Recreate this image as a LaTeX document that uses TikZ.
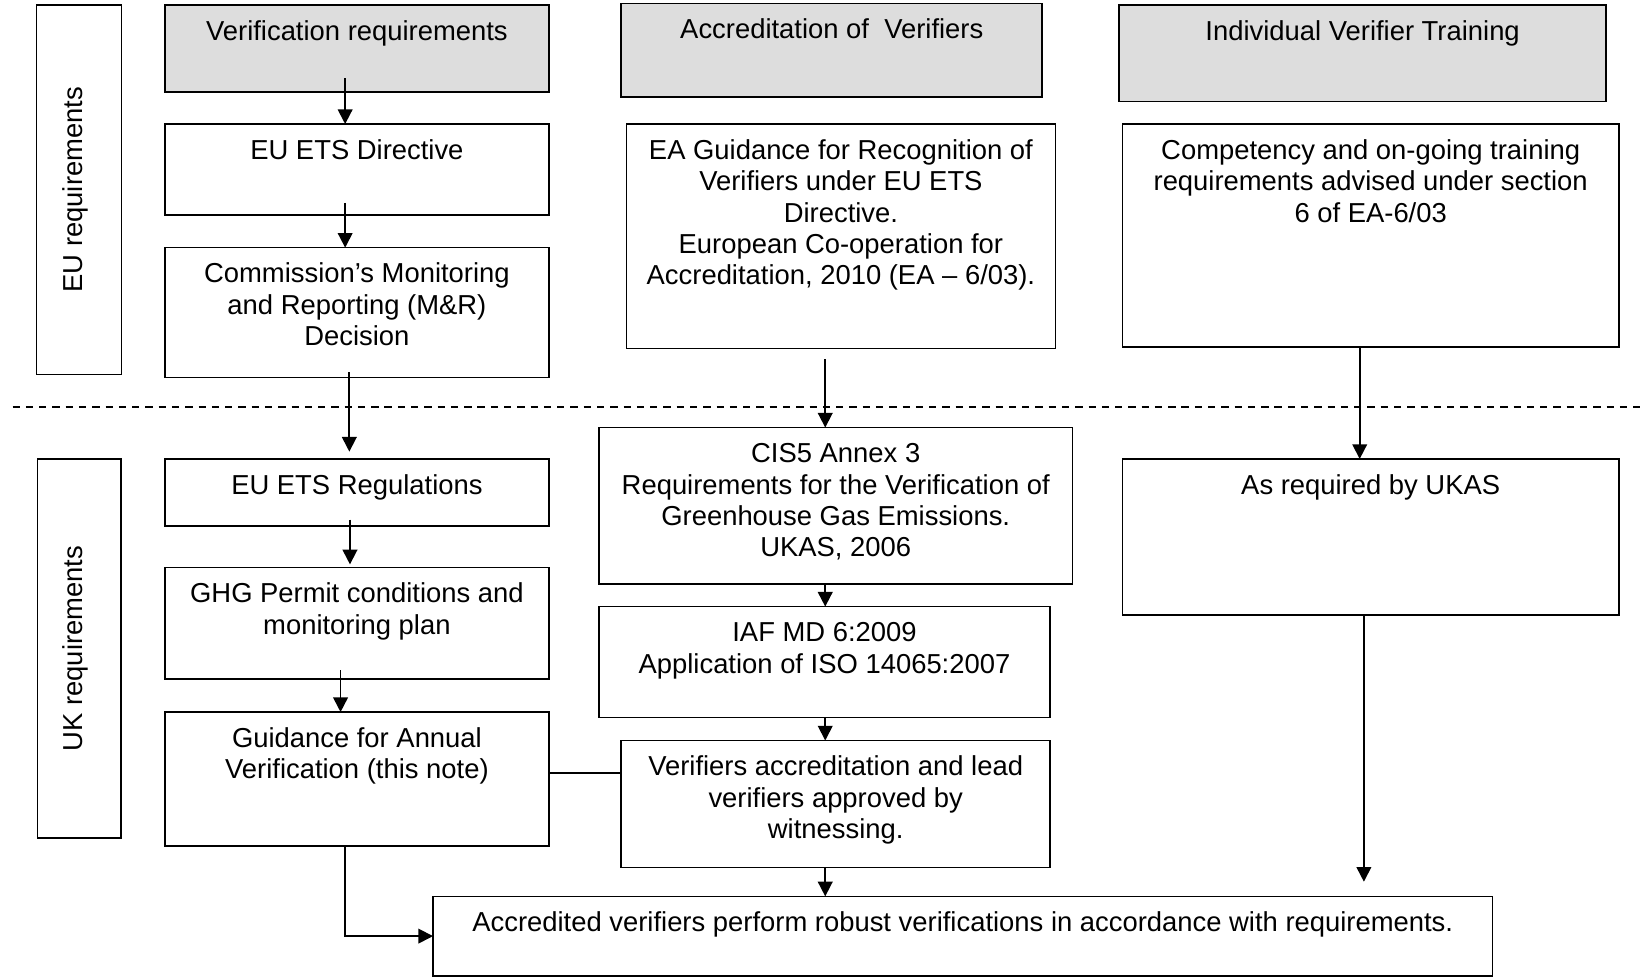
\documentclass[tikz,border=0pt]{standalone}
\usepackage{fontspec}
\setmainfont{Liberation Sans}
\usetikzlibrary{arrows.meta,calc}
\definecolor{hdrgrey}{RGB}{221,221,221}
\newcommand{\fls}{\rule{0pt}{21pt}}
% name, left, top, right, bottom, style, text
\newcommand{\putbox}[7]{%
  \node[#6, minimum width={#4pt-#2pt}, minimum height={#5pt-#3pt}] (#1) at ({(#2+#4)/2},{(#3+#5)/2}) {};
  \node[txt] (#1-t) at ([yshift=-12.5pt]#1.north) {\fls #7};}
\tikzset{
  plainbox/.style={draw, line width=1.5pt, inner sep=0pt, outer sep=0pt, rectangle},
  greybox/.style={plainbox, fill=hdrgrey},
  txt/.style={anchor=north, inner sep=0pt, align=center, font=\fontsize{26.2}{30}\selectfont},
  sidetxt/.style={rotate=90, anchor=base, inner sep=0pt, font=\fontsize{26.2}{30}\selectfont},
  arr/.style={line width=1.7pt, -{Triangle[length=14pt,width=14pt]}},
  plainline/.style={line width=1.6pt},
  dashline/.style={line width=1.6pt, dash pattern=on 7pt off 5.7pt}
}
\begin{document}
\begin{tikzpicture}[x=1pt,y=-1pt]
\useasboundingbox (0,0) rectangle (1568,934);
% side boxes
\node[plainbox, minimum width=81pt, minimum height=353.2pt] (eu) at (75.5,181.4) {};
\node[sidetxt] (eu-t) at (79,181.4) {EU requirements};
\node[plainbox, minimum width=79.5pt, minimum height=362.5pt] (uk) at (75.75,620) {};
\node[sidetxt] (uk-t) at (79,620) {UK requirements};
% header boxes
\putbox{vr}{157.5}{4.8}{525}{87.7}{greybox}{Verification requirements}
\putbox{av}{594}{3.2}{996.5}{93}{greybox}{Accreditation of~ Verifiers}
\putbox{ivt}{1070}{4.8}{1535.6}{97.2}{greybox}{Individual Verifier Training}
% EU column boxes
\putbox{dir}{157.5}{118.6}{525}{205.6}{plainbox}{EU ETS Directive}
\putbox{com}{157.5}{236.8}{525}{361}{plainbox}{Commission’s Monitoring\\and Reporting (M\&R)\\Decision}
\putbox{eag}{599}{118.6}{1009}{333}{plainbox}{EA Guidance for Recognition of\\Verifiers under EU ETS\\Directive.\\European Co-operation for\\Accreditation, 2010 (EA – 6/03).}
\putbox{cmp}{1073}{118.6}{1548}{332}{plainbox}{Competency and on-going training\\requirements advised under section\\6 of EA-6/03}
% UK boxes
\putbox{reg}{157.5}{438.8}{525}{502.8}{plainbox}{EU ETS Regulations}
\putbox{ghg}{157.5}{542.6}{525}{649}{plainbox}{GHG Permit conditions and\\monitoring plan}
\putbox{gav}{157.5}{680.8}{525}{808.6}{plainbox}{Guidance for Annual\\Verification (this note)}
\putbox{cis}{572.6}{408.8}{1025.5}{558.4}{plainbox}{CIS5 Annex 3\\Requirements for the Verification of\\Greenhouse Gas Emissions.\\UKAS, 2006}
\putbox{iaf}{572.6}{580}{1004}{686}{plainbox}{IAF MD 6:2009\\Application of ISO 14065:2007}
\putbox{vab}{594}{708}{1004}{829.4}{plainbox}{Verifiers accreditation and lead\\verifiers approved by\\witnessing.}
\putbox{uka}{1073}{438.8}{1548}{588}{plainbox}{As required by UKAS}
\putbox{acc}{414}{857}{1427}{933}{plainbox}{Accredited verifiers perform robust verifications in accordance with requirements.}
% dashed separator
\coordinate (dl) at (12,389);
\coordinate (dr) at (1568,389);
\draw[dashline] (dl) -- (dr);
% left column connectors
\coordinate (a1s) at ([xshift=-11.25pt,yshift=12.7pt]vr.south);
\draw[arr] (a1s) -- (a1s |- dir.north);
\coordinate (a2s) at ([xshift=-11.25pt,yshift=11.6pt]dir.south);
\draw[arr] (a2s) -- (a2s |- com.north);
\coordinate (a3s) at ([xshift=-7.25pt,yshift=5pt]com.south);
\coordinate (a3e) at ([xshift=-7.25pt,yshift=7pt]reg.north);
\draw[arr] (a3s) -- (a3e);
\coordinate (a4s) at ([xshift=-6.65pt,yshift=6pt]reg.south);
\coordinate (a4e) at ([xshift=-6.65pt,yshift=3pt]ghg.north);
\draw[arr] (a4s) -- (a4e);
\coordinate (a5s) at ([xshift=-15.65pt,yshift=8pt]ghg.south);
\draw[arr] (a5s) -- (a5s |- gav.north);
\draw[arr] ([xshift=-11.25pt]gav.south) |- (acc.west);
\coordinate (lk) at ([yshift=5.8pt]gav.east);
\draw[plainline] (lk) -- (lk -| vab.west);
% centre column connectors
\coordinate (colx) at (789,0);
\coordinate (a6s) at ($(eag.south -| colx)+(0,10.6)$);
\draw[arr] (a6s) -- (a6s |- cis.north);
\draw[arr] (cis.south -| colx) -- (iaf.north -| colx);
\draw[arr] (iaf.south -| colx) -- (vab.north -| colx);
\draw[arr] (vab.south -| colx) -- (acc.north -| colx);
% right column connectors
\draw[arr] ([xshift=-10.5pt]cmp.south) -- ([xshift=-10.5pt]uka.north);
\coordinate (fe) at (1304,843);
\draw[arr] ([xshift=-6.5pt]uka.south) -- (fe);
\end{tikzpicture}
\end{document}
